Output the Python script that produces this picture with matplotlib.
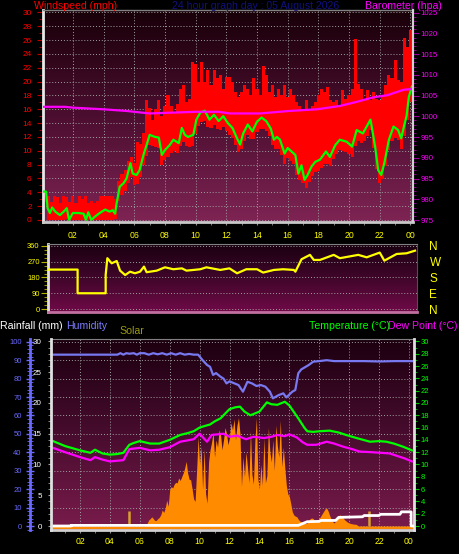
import numpy as np
import matplotlib
matplotlib.use("Agg")
import matplotlib.pyplot as plt
from matplotlib.colors import LinearSegmentedColormap
from matplotlib.ticker import MultipleLocator

plt.rcParams["font.family"] = ["Liberation Sans", "DejaVu Sans"]

# ---- data (hours since midnight) ----
hour_ticks = [2, 4, 6, 8, 10, 12, 14, 16, 18, 20, 22, 24]
hour_labels = ["02", "04", "06", "08", "10", "12", "14", "16", "18", "20", "22", "00"]

# average wind speed (mph)
avg_t = [0.05, 0.25, 0.35, 0.5, 0.65, 0.85, 1.15, 1.4, 1.6, 1.75, 2.0, 2.35, 2.7, 2.85, 3.0,
         3.2, 3.45, 3.75, 4.1, 4.4, 4.6, 4.75, 4.85, 5.05, 5.3, 5.5, 5.75, 5.9, 6.15, 6.35,
         6.6, 6.8, 7.0, 7.35, 7.6, 7.8, 8.0, 8.3, 8.55, 8.9, 9.1, 9.3, 9.5, 9.85, 10.05,
         10.3, 10.6, 10.9, 11.2, 11.5, 11.8, 12.1, 12.4, 12.7, 12.9, 13.1, 13.4, 13.7, 14.0,
         14.3, 14.6, 14.9, 15.1, 15.3, 15.5, 15.8, 16.0, 16.3, 16.5, 16.7, 16.9, 17.1, 17.3,
         17.55, 17.8, 18.1, 18.5, 18.75, 19.1, 19.4, 19.85, 20.2, 20.5, 20.9, 21.4, 21.7,
         21.9, 22.1, 22.3, 22.6, 22.9, 23.2, 23.4, 23.6, 23.75, 23.9, 24.1]
avg_v = [4.1, 4.1, 1.7, 1.0, 1.8, 1.2, 0.7, 1.2, 1.7, 0.0, 1.0, 1.0, 0.9, 0.0, 1.1,
         0.0, 0.5, 1.0, 1.5, 1.2, 1.4, 0.9, 2.4, 4.8, 5.3, 6.0, 8.2, 6.7, 6.5, 7.2,
         9.4, 10.8, 12.3, 12.0, 11.9, 9.4, 10.1, 10.8, 11.6, 11.1, 13.3, 12.3, 12.0, 12.3, 14.5,
         15.5, 15.8, 14.5, 15.2, 14.3, 15.0, 14.0, 13.3, 11.8, 10.9, 12.5, 13.8, 12.8, 14.2,
         14.8, 14.3, 13.2, 11.6, 12.0, 11.6, 9.6, 10.4, 9.8, 9.4, 6.7, 7.9, 5.8, 6.5,
         7.7, 8.4, 8.7, 9.9, 9.1, 10.8, 11.6, 11.3, 10.6, 13.0, 12.5, 14.5, 10.6,
         7.2, 6.5, 8.2, 11.6, 13.5, 13.0, 11.8, 13.7, 15.0, 17.8, 19.3]

# gust (mph), every 0.2 h from 0.0 to 24.2
gust_v = [4.2, 4.2, 3.4, 2.6, 3.4, 3.3, 2.5, 3.4, 3.3, 2.6, 3.4, 2.5, 3.4, 3.0, 3.4, 2.5,
          2.8, 2.4, 2.8, 3.4, 3.4, 3.4, 3.4, 3.4, 3.0, 5.6, 6.7, 7.2, 8.5, 9.1, 8.2, 11.3,
          11.0, 12.5, 17.3, 16.2, 14.5, 16.0, 17.3, 15.0, 16.4, 18.0, 16.4, 15.5, 16.8, 19.0,
          19.5, 17.0, 17.5, 22.9, 22.5, 20.0, 22.8, 20.0, 21.7, 19.5, 21.7, 20.5, 21.0, 19.0,
          20.7, 20.7, 20.0, 18.5, 17.8, 18.5, 19.5, 19.0, 18.0, 20.5, 19.0, 18.0, 22.2, 21.0,
          18.5, 19.5, 17.8, 19.0, 18.0, 19.5, 17.8, 19.0, 18.0, 17.0, 16.5, 15.9, 17.3, 16.0,
          16.5, 17.0, 18.0, 19.0, 18.5, 19.2, 17.3, 17.0, 17.3, 16.5, 18.8, 17.5, 18.0, 19.0,
          26.2, 19.7, 19.0, 17.5, 18.8, 17.3, 18.5, 17.5, 17.3, 18.0, 19.5, 21.0, 20.5, 23.1,
          20.2, 20.0, 26.3, 25.0, 27.5, 26.0]
gust_t = np.linspace(0.0, 24.2, len(gust_v))

# barometer (hPa)
baro_t = [0.05, 1.5, 2.0, 4.0, 5.5, 7.0, 8.5, 10.0, 11.5, 12.2, 14.2, 16.1, 17.9, 19.4,
          20.5, 21.6, 22.5, 23.55, 24.1]
baro_v = [1002.3, 1002.3, 1002.1, 1001.7, 1001.3, 1000.7, 1000.9, 1001.1, 1001.1, 1000.7,
          1000.7, 1001.3, 1001.7, 1002.5, 1003.5, 1004.6, 1005.1, 1006.4, 1006.6]

# wind direction (degrees)
dir_t = [0.4, 2.3, 2.3, 4.13, 4.13, 4.24, 4.52, 4.85, 5.07, 5.4, 5.72, 6.04, 6.37, 6.63,
         6.8, 7.46, 8.0, 8.54, 9.1, 9.4, 10.3, 10.7, 11.6, 12.2, 12.7, 13.3, 14.0, 14.4,
         15.1, 15.7, 16.4, 16.5, 16.9, 17.45, 17.7, 18.1, 19.0, 19.4, 20.6, 21.15, 22.0,
         22.3, 23.1, 23.75, 24.3]
dir_v = [225, 225, 90, 90, 195, 290, 261, 274, 219, 194, 213, 204, 213, 242,
         210, 219, 238, 227, 232, 219, 227, 238, 223, 232, 204, 227, 227, 208,
         223, 227, 223, 213, 284, 309, 280, 280, 309, 290, 309, 295, 322,
         276, 314, 318, 333]

# humidity (%)
hum_t = [0.1, 4.5, 4.7, 4.9, 5.1, 5.3, 5.6, 5.8, 6.0, 6.3, 6.6, 6.9, 7.2, 7.5, 7.8, 8.1,
         8.4, 8.7, 9.0, 9.3, 9.6, 9.9, 10.2, 10.5, 10.7, 10.9, 11.1, 11.4, 11.6, 11.8,
         12.0, 12.3, 12.6, 12.9, 13.2, 13.5, 13.8, 14.1, 14.4, 14.7, 14.9, 15.3, 15.6,
         15.8, 16.2, 16.4, 16.6, 16.8, 17.3, 17.6, 18.0, 18.5, 19.0, 20.0, 21.0, 22.0,
         23.0, 24.2]
hum_v = [93.0, 93.0, 93.8, 93.0, 93.8, 93.5, 93.8, 93.0, 93.8, 93.8, 93.0, 93.8, 93.2,
         93.8, 93.0, 93.8, 93.0, 93.8, 93.0, 93.4, 93.0, 93.0, 90.0, 87.4, 86.4, 82.0,
         83.0, 81.0, 80.0, 77.4, 78.5, 77.5, 76.5, 72.9, 78.3, 77.4, 76.0, 76.5, 75.6,
         72.9, 69.3, 71.1, 72.0, 69.8, 72.9, 73.8, 82.9, 85.0, 87.4, 89.2, 89.5, 90.0,
         89.5, 89.5, 89.5, 89.3, 89.5, 89.5]

# temperature and dew point (deg C)
temp_t = [0.2, 1.0, 2.0, 2.7, 3.0, 3.5, 4.0, 4.5, 4.9, 5.3, 5.6, 6.0, 6.7, 7.3, 8.0, 8.7,
          9.2, 9.6, 10.0, 10.4, 10.7, 11.0, 11.4, 12.0, 12.4, 12.7, 13.0, 13.4, 13.7, 14.0,
          14.5, 14.8, 15.2, 15.5, 15.7, 16.0, 16.2, 16.6, 17.0, 17.2, 17.6, 18.0, 18.7,
          19.3, 19.8, 20.5, 21.4, 22.0, 22.5, 23.0, 23.6, 24.2]
temp_v = [13.8, 13.0, 12.3, 11.9, 12.4, 11.8, 11.6, 11.7, 11.9, 13.2, 13.5, 13.8, 13.4,
          13.4, 14.0, 14.8, 15.1, 15.4, 16.0, 16.3, 16.5, 17.0, 17.5, 19.0, 19.3, 19.4,
          18.6, 18.0, 18.3, 18.6, 20.1, 19.8, 19.7, 20.0, 20.2, 19.6, 18.9, 17.5, 16.0,
          15.4, 15.3, 15.4, 15.5, 15.2, 14.8, 14.3, 13.7, 13.8, 13.7, 13.4, 12.9, 12.3]
dew_t = [0.2, 1.0, 2.0, 2.7, 3.0, 3.5, 4.0, 4.9, 5.3, 6.0, 6.7, 7.3, 8.0, 8.7, 9.6, 10.0,
         10.3, 10.5, 10.8, 11.2, 11.6, 12.0, 12.5, 13.1, 13.6, 14.3, 14.8, 15.2, 15.7, 16.0,
         16.5, 16.9, 17.2, 17.8, 18.5, 19.0, 19.6, 20.2, 20.7, 21.5, 22.1, 22.7, 23.2,
         23.7, 24.2]
dew_v = [12.7, 12.0, 11.2, 10.7, 11.2, 10.8, 10.5, 10.7, 12.5, 12.7, 12.3, 12.4, 12.8,
         13.7, 14.1, 15.0, 14.2, 13.7, 14.8, 14.9, 15.0, 14.5, 14.7, 14.1, 14.5, 14.3,
         14.5, 14.8, 14.6, 14.9, 14.4, 13.6, 13.2, 13.2, 13.7, 13.4, 12.9, 12.5, 12.1,
         12.0, 11.9, 11.8, 11.4, 11.0, 10.5]

# rainfall (mm)
rain_t = [0.1, 1.4, 1.4, 16.6, 17.0, 17.2, 18.0, 18.1, 19.1, 19.3, 20.9, 21.0, 22.0,
          22.1, 23.4, 23.5, 24.15, 24.15, 24.3]
rain_v = [0.0, 0.0, 0.1, 0.1, 0.5, 0.7, 0.75, 0.9, 0.9, 1.4, 1.5, 1.7, 1.7,
          1.9, 1.9, 2.3, 2.3, 0.0, 0.0]

# solar (W/m2), every 0.1 h from 6.4 to 20.6
solar_v = [0, 25, 50, 60, 75, 60, 45, 45, 60, 70,
           90, 130, 110, 145, 210, 160, 295, 320, 310, 340,
           355, 350, 390, 370, 400, 430, 470, 525, 430, 380,
           375, 300, 220, 200, 450, 725, 500, 650, 295, 630,
           260, 185, 520, 620, 680, 760, 560, 700, 640, 780,
           740, 620, 700, 800, 750, 660, 720, 840, 780, 870,
           700, 820, 880, 750, 320, 560, 400, 600, 480, 350,
           780, 420, 340, 700, 880, 380, 300, 500, 330, 720,
           350, 410, 800, 600, 520, 700, 450, 820, 650, 560,
           860, 480, 640, 470, 330, 260, 240, 180, 115, 90,
           80, 75, 55, 40, 35, 25, 20, 20, 25, 45,
           60, 65, 60, 40, 35, 40, 60, 80, 100, 120,
           140, 145, 120, 85, 55, 35, 25, 40, 65, 85,
           90, 80, 65, 50, 40, 30, 25, 20, 18, 15,
           15, 12, 0]
solar_t = np.linspace(6.4, 20.6, len(solar_v))
solar_mark_t = [5.3, 21.3]
solar_mark_v = [122, 122]

W, H = 460, 554
fig = plt.figure(figsize=(W / 100, H / 100), dpi=100, facecolor="black")


def box(l, t, r, b):
    return [l / W, 1 - b / H, (r - l) / W, (b - t) / H]


def fill_bg(ax, colors):
    cmap = LinearSegmentedColormap.from_list("bg", colors)
    grad = np.linspace(0, 1, 256).reshape(-1, 1)
    ax.imshow(grad, extent=[0, 1, 0, 1], transform=ax.transAxes, cmap=cmap,
              aspect="auto", origin="lower", zorder=0)


def hide_spines(ax, keep=()):
    for k, s in ax.spines.items():
        s.set_visible(k in keep)


def ftext(x, y, s, color, ha="left", size=7.6):
    fig.text(x / W, 1 - y / H, s, color=color, ha=ha, va="center", fontsize=size)


grid_kw = dict(color="#a0a0a0", linestyle=(0, (1, 2)), linewidth=0.7)

# ---------------- wind speed / barometer ----------------
ax1 = fig.add_axes(box(43, 10, 413, 222))
fill_bg(ax1, ["#7e2454", "#4c0e30", "#180008"])
lull = np.clip(np.interp(gust_t, avg_t, avg_v) - 1.5, 0, None)
top = np.maximum(gust_v, np.interp(gust_t, avg_t, avg_v))
ax1.fill_between(gust_t, lull, top, step="mid", color="#ff0000", lw=0, zorder=2)
ax1.plot(avg_t, avg_v, color="#00ff00", lw=1.6, zorder=3)
ax1.set_xlim(0.05, 24.17)
ax1.set_ylim(-0.3, 30.35)
ax1.set_xticks(hour_ticks)
ax1.set_xticklabels(hour_labels)
ax1.xaxis.set_minor_locator(MultipleLocator(1))
ax1.yaxis.set_major_locator(MultipleLocator(2))
ax1.yaxis.set_minor_locator(MultipleLocator(1))
ax1.tick_params(axis="x", which="both", colors="#909090", labelcolor="#ffff00",
                labelsize=6.3, length=2, pad=4.5)
ax1.tick_params(axis="y", which="major", colors="#c00000", labelcolor="#ff0000",
                labelsize=6, length=4.5, pad=3.6)
ax1.tick_params(axis="y", which="minor", colors="#c00000", length=3)
ax1.grid(True, which="major", **grid_kw)
ax1.set_axisbelow(True)
ax1.spines["left"].set_color("#e8e8e8")
ax1.spines["left"].set_linewidth(2)
ax1.spines["bottom"].set_color("#c8c8c8")
ax1.spines["bottom"].set_linewidth(2)
ax1.spines["right"].set_color("#d0d0d0")
ax1.spines["right"].set_linewidth(1.5)
ax1.spines["top"].set_color("#808080")
ax1.spines["top"].set_linewidth(1)

ax1b = ax1.twinx()
ax1b.plot(baro_t, baro_v, color="#ff00ff", lw=1.6)
ax1b.set_ylim(974.52, 1025.65)
ax1b.yaxis.set_major_locator(MultipleLocator(5))
ax1b.yaxis.set_minor_locator(MultipleLocator(1))
ax1b.tick_params(axis="y", which="major", colors="#a000a0", labelcolor="#ff00ff",
                 labelsize=5.6, length=4.3, pad=1)
ax1b.tick_params(axis="y", which="minor", colors="#a000a0", length=2)
hide_spines(ax1b, keep=("right",))
ax1b.spines["right"].set_color("#d0d0d0")
ax1b.spines["right"].set_linewidth(1.5)

ftext(34, 6, "Windspeed (mph)", "#ff0000")
ftext(256, 6, "24 hour graph day : 05 August 2026", "#101080", ha="center")
ftext(442, 6, "Barometer (hpa)", "#ff00ff", ha="right")

# ---------------- wind direction ----------------
ax2 = fig.add_axes(box(48, 244, 417, 312))
fill_bg(ax2, ["#700a48", "#40062a", "#1a0010"])
ax2.plot(dir_t, dir_v, color="#ffff00", lw=1.6, zorder=3)
ax2.set_xlim(0.37, 24.43)
ax2.set_ylim(-17, 371)
ax2.set_xticks(hour_ticks)
ax2.tick_params(axis="x", which="both", length=0, labelbottom=False)
ax2.set_yticks([0, 90, 180, 270, 360])
ax2.yaxis.set_minor_locator(MultipleLocator(22.5))
ax2.tick_params(axis="y", which="major", colors="#b0b000", labelcolor="#ffff00",
                labelsize=5.4, length=5, pad=1)
ax2.tick_params(axis="y", which="minor", colors="#b0b000", length=3)
ax2.grid(True, axis="y", which="major", **grid_kw)
ax2.set_axisbelow(True)
ax2.spines["left"].set_color("#e0e0e0")
ax2.spines["left"].set_linewidth(2)
ax2.spines["bottom"].set_color("#c070a0")
ax2.spines["bottom"].set_linewidth(2)
ax2.spines["top"].set_color("#808080")
ax2.spines["right"].set_color("#505050")

ax2r = ax2.twinx()
ax2r.set_ylim(-17, 371)
ax2r.set_yticks([0, 90, 180, 270, 360])
ax2r.set_yticklabels(["N", "E", "S", "W", "N"])
ax2r.tick_params(axis="y", colors="#ffff00", labelsize=8.5, length=0, pad=9)
hide_spines(ax2r)

# ---------------- humidity / solar / temperature / rain ----------------
ax3 = fig.add_axes(box(51, 339, 414, 530))
fill_bg(ax3, ["#7a1c4c", "#480c2e", "#1c0010"])
ax3.plot(hum_t, hum_v, color="#7878f0", lw=1.6, zorder=3)
ax3.set_xlim(0.06, 24.34)
ax3.set_ylim(-2.17, 101.5)
ax3.set_xticks(hour_ticks)
ax3.set_xticklabels(hour_labels)
ax3.xaxis.set_minor_locator(MultipleLocator(1))
ax3.tick_params(axis="x", which="both", colors="#909090", labelcolor="#ffff00",
                labelsize=6.3, length=2, pad=3.4)
ax3.yaxis.set_major_locator(MultipleLocator(10))
ax3.yaxis.set_minor_locator(MultipleLocator(2))
ax3.tick_params(axis="y", which="major", colors="#6a6aff", labelcolor="#6868ff",
                labelsize=5.5, length=6, width=1, direction="inout", pad=3)
ax3.tick_params(axis="y", which="minor", colors="#6a6aff", length=4, direction="inout")
ax3.grid(True, which="major", **grid_kw)
ax3.set_axisbelow(True)
ax3.spines["left"].set_position(("outward", 15.1))
ax3.spines["left"].set_color("#6a6aff")
ax3.spines["left"].set_linewidth(2)
ax3.spines["bottom"].set_color("#d0d0d0")
ax3.spines["bottom"].set_linewidth(2)
ax3.spines["top"].set_color("#808080")
ax3.spines["right"].set_visible(False)

axs = ax3.twinx()
solar_all_t = np.concatenate([[0.06], solar_t, [24.3]])
solar_all_v = np.concatenate([[0], solar_v, [0]])
axs.fill_between(solar_all_t, -20, solar_all_v, color="#ff8c00", lw=0)
axs.vlines(solar_mark_t, 0, solar_mark_v, color="#d8a030", lw=1.8)
axs.set_ylim(-32.5, 1520)
axs.set_yticks([])
hide_spines(axs)

axt = ax3.twinx()
axt.plot(temp_t, temp_v, color="#00ff00", lw=1.6)
axt.plot(dew_t, dew_v, color="#ff00ff", lw=1.6)
axt.set_ylim(-0.65, 30.4)
axt.yaxis.set_major_locator(MultipleLocator(2))
axt.yaxis.set_minor_locator(MultipleLocator(1))
axt.tick_params(axis="y", which="major", colors="#00c000", labelcolor="#00ff00",
                labelsize=5.5, length=3.6, pad=1)
axt.tick_params(axis="y", which="minor", colors="#00c000", length=2)
hide_spines(axt, keep=("right",))
axt.spines["right"].set_color("#e0e0e0")
axt.spines["right"].set_linewidth(2)

axr = ax3.twinx()
axr.plot(rain_t, rain_v, color="#ffffff", lw=2)
axr.set_ylim(-0.65, 30.4)
axr.yaxis.tick_left()
axr.yaxis.set_major_locator(MultipleLocator(5))
axr.yaxis.set_minor_locator(MultipleLocator(1))
axr.tick_params(axis="y", which="major", colors="#a0a0a0", labelcolor="#ffffff",
                labelsize=5.8, length=2, pad=4.7)
axr.tick_params(axis="y", which="minor", colors="#a0a0a0", length=2)
hide_spines(axr, keep=("left",))
axr.spines["left"].set_color("#e0e0e0")
axr.spines["left"].set_linewidth(2)

ftext(0, 326, "Rainfall (mm)", "#ffffff")
ftext(66, 326, "Humidity", "#7b7bff")
ftext(119, 331, "Solar", "#9a9a10")
ftext(309, 326, "Temperature (\u00b0C)", "#00ff00")
ftext(388, 326, "Dew Point (\u00b0C)", "#ff00ff")

fig.savefig("out.png", dpi=100, facecolor="black")
